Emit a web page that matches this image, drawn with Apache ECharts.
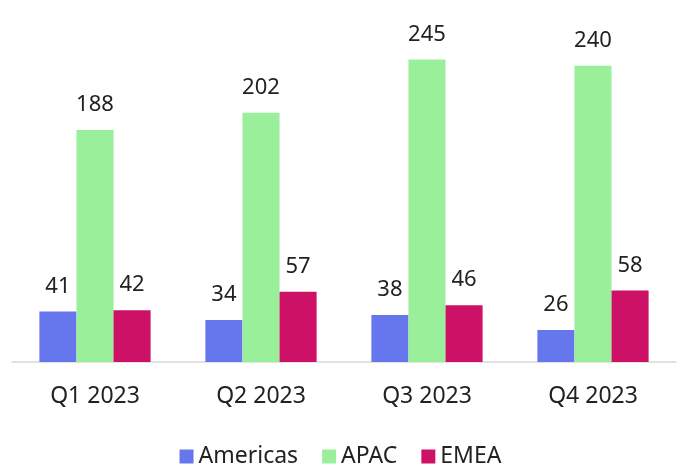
<!DOCTYPE html>
<html>
<head>
<meta charset="utf-8">
<script src="https://cdn.jsdelivr.net/npm/echarts@6/dist/echarts.min.js"></script>
<style>
  html, body { margin: 0; padding: 0; background: #fff; }
  #chart { width: 681px; height: 468px; }
</style>
</head>
<body>
<div id="chart"></div>
<script>
const quarters = ['Q1 2023', 'Q2 2023', 'Q3 2023', 'Q4 2023']
const americas = [41, 34, 38, 26]
const apac = [188, 202, 245, 240]
const emea = [42, 57, 46, 58]

const font = 'Noto Sans'
const label = {
  show: true,
  position: 'top',
  distance: 14,
  fontFamily: font,
  fontSize: 22,
  color: '#222'
}

const chart = echarts.init(document.getElementById('chart'))
chart.setOption({
  animation: false,
  grid: { left: 12, right: 5, top: 4, bottom: 106 },
  legend: {
    top: 440,
    left: 'center',
    itemWidth: 14,
    itemHeight: 14,
    itemGap: 24,
    icon: 'rect',
    textStyle: { fontFamily: font, fontSize: 23, color: '#222' },
    data: ['Americas', 'APAC', 'EMEA']
  },
  xAxis: {
    type: 'category',
    data: quarters,
    axisLine: { lineStyle: { color: '#d9d9d9', width: 1.5 } },
    axisTick: { show: false },
    axisLabel: { fontFamily: font, fontSize: 23, color: '#222', margin: 23 }
  },
  yAxis: {
    type: 'value',
    min: 0,
    max: 290,
    show: false,
    splitLine: { show: false }
  },
  series: [
    { name: 'Americas', type: 'bar', data: americas, barGap: '0%', barCategoryGap: '33%', itemStyle: { color: '#6677ee' }, label },
    { name: 'APAC', type: 'bar', data: apac, itemStyle: { color: '#9af09a' }, label },
    { name: 'EMEA', type: 'bar', data: emea, itemStyle: { color: '#cc1166' }, label }
  ]
})
</script>
</body>
</html>
